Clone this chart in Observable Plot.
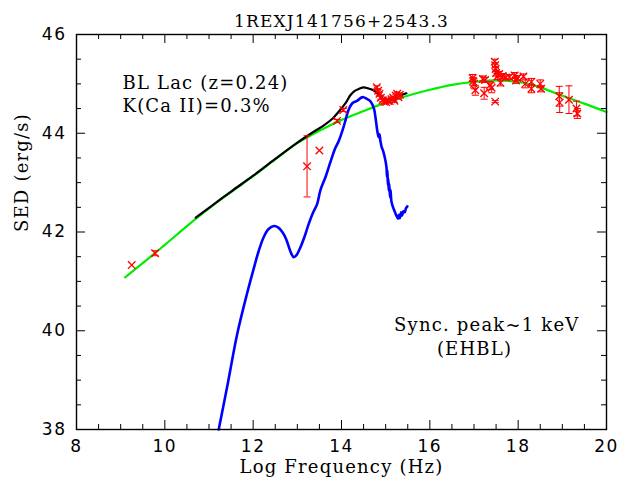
<!DOCTYPE html>
<html><head><meta charset="utf-8">
<script src="https://cdn.jsdelivr.net/npm/d3@7"></script>
<script src="https://cdn.jsdelivr.net/npm/@observablehq/plot@0.6"></script>
<style>
html,body{margin:0;padding:0;background:#fff;}
g[font-family="DejaVu Serif"] text{letter-spacing:1.2px;}
g[font-family="DejaVu Sans"] text{letter-spacing:1.5px;}
</style></head>
<body><div id="chart"></div>
<script>
// ---- texts ----
const title = "1REXJ141756+2543.3";
const xLabel = "Log Frequency (Hz)";
const yLabel = "SED (erg/s)";
const noteTopLeft = "BL Lac (z=0.24)\nK(Ca II)=0.3%";
const noteLine1 = "Sync. peak~1 keV";
const noteLine2 = "(EHBL)";

// ---- ticks ----
const xMajorTicks = [8, 10, 12, 14, 16, 18, 20];
const xMinorTicks = [8.5, 9, 9.5, 10.5, 11, 11.5, 12.5, 13, 13.5, 14.5, 15, 15.5, 16.5, 17, 17.5, 18.5, 19, 19.5];
const yMajorTicks = [38, 40, 42, 44, 46];
const yMinorTicks = [38.5, 39, 39.5, 40.5, 41, 41.5, 42.5, 43, 43.5, 44.5, 45, 45.5];

// ---- green model curve ----
const greenX = [9.1, 9.5, 10.0, 10.5, 11.0, 11.5, 12.0, 12.5, 13.0, 13.5, 14.0, 14.5, 15.0, 15.5, 16.0, 16.5, 17.0, 17.5, 18.0, 18.5, 19.0, 19.5, 20.0];
const greenY = [41.08, 41.37, 41.74, 42.12, 42.48, 42.81, 43.13, 43.47, 43.80, 44.05, 44.27, 44.45, 44.62, 44.76, 44.88, 44.98, 45.04, 45.07, 45.04, 44.93, 44.76, 44.60, 44.43];

// ---- black total curve ----
const blackX = [10.7, 11.0, 11.5, 12.0, 12.5, 13.0, 13.3, 13.6, 13.8, 13.95, 14.1, 14.2, 14.3, 14.4, 14.5, 14.6, 14.7, 14.8, 14.9, 15.0, 15.1, 15.2, 15.3, 15.4, 15.47];
const blackY = [42.29, 42.49, 42.82, 43.14, 43.48, 43.81, 43.99, 44.16, 44.30, 44.45, 44.62, 44.77, 44.86, 44.90, 44.93, 44.91, 44.88, 44.82, 44.72, 44.68, 44.69, 44.72, 44.76, 44.79, 44.81];

// ---- blue host galaxy curve ----
const blueX = [11.22, 11.41, 11.64, 11.86, 12.01, 12.12, 12.24, 12.35, 12.47, 12.57, 12.66, 12.75, 12.81, 12.87, 12.92, 12.98, 13.07, 13.16, 13.26, 13.35, 13.45, 13.52, 13.64, 13.75, 13.86, 13.94, 14.03, 14.09, 14.15, 14.22, 14.28, 14.36, 14.44, 14.50, 14.57, 14.64, 14.70, 14.74, 14.78, 14.81, 14.84, 14.86, 14.88, 14.91, 14.94, 14.97, 15.00, 15.02, 15.03, 15.04, 15.05, 15.06, 15.07, 15.08, 15.10, 15.11, 15.13, 15.16, 15.19, 15.22, 15.25, 15.28, 15.30, 15.32, 15.35, 15.37, 15.40, 15.43, 15.46, 15.49];
const blueY = [38.0, 38.86, 39.94, 40.75, 41.25, 41.60, 41.90, 42.06, 42.12, 42.09, 42.00, 41.85, 41.69, 41.55, 41.49, 41.53, 41.69, 41.90, 42.17, 42.38, 42.57, 42.84, 43.12, 43.42, 43.70, 43.85, 44.08, 44.26, 44.45, 44.58, 44.63, 44.66, 44.72, 44.73, 44.70, 44.66, 44.58, 44.48, 44.25, 44.05, 43.92, 43.98, 43.85, 43.72, 43.65, 43.55, 43.42, 43.30, 43.12, 43.25, 42.95, 43.08, 42.84, 42.98, 42.70, 42.85, 42.62, 42.52, 42.45, 42.38, 42.32, 42.27, 42.35, 42.28, 42.40, 42.33, 42.42, 42.40, 42.48, 42.52];

// ---- red data points (value, symmetric error) ----
const ptX = [9.25, 9.78, 13.22, 13.50, 13.90, 14.04,
  14.80, 14.83, 14.86, 14.89, 14.93, 14.97, 15.01, 15.05, 15.09, 15.13, 15.17, 15.20, 15.23, 15.26, 15.29, 15.32,
  16.97, 16.98, 17.00, 17.03, 17.20, 17.23, 17.25, 17.36, 17.40, 17.47, 17.48, 17.49, 17.50, 17.48, 17.53, 17.57, 17.60, 17.65, 17.72, 17.80, 17.92, 17.95, 17.98, 18.12, 18.16, 18.30, 18.30, 18.50, 18.52, 18.93, 18.94, 19.15, 19.32, 19.34];
const ptY = [41.33, 41.57, 43.33, 43.65, 44.25, 44.47,
  44.93, 44.86, 44.80, 44.72, 44.67, 44.64, 44.63, 44.66, 44.65, 44.69, 44.72, 44.66, 44.76, 44.80, 44.73, 44.78,
  45.12, 45.05, 45.00, 44.87, 45.10, 44.81, 45.08, 44.97, 44.92, 45.45, 45.38, 45.30, 45.22, 44.64, 45.15, 45.20, 45.02, 45.16, 45.13, 45.14, 45.17, 45.07, 45.12, 45.15, 45.00, 45.04, 44.90, 45.00, 44.90, 44.75, 44.62, 44.68, 44.50, 44.40];
const ptErr = [0, 0.05, 0.62, 0, 0.03, 0.03,
  0.03, 0.03, 0.03, 0.03, 0.03, 0.03, 0.03, 0.03, 0.03, 0.03, 0.03, 0.03, 0.03, 0.03, 0.03, 0.03,
  0.07, 0.08, 0.10, 0.10, 0.06, 0.12, 0.05, 0.08, 0.10, 0.05, 0.05, 0.05, 0.06, 0.02, 0.06, 0.05, 0.06, 0.05, 0.05, 0.05, 0.06, 0.06, 0.05, 0.05, 0.08, 0.07, 0.08, 0.08, 0.06, 0.20, 0.20, 0.28, 0.15, 0.10];

// ---- build tables ----
const green = greenX.map((x, i) => ({x, y: greenY[i]}));
const black = blackX.map((x, i) => ({x, y: blackY[i]}));
const blue = blueX.map((x, i) => ({x, y: blueY[i]}));
const points = ptX.map((x, i) => ({x, y: ptY[i], lo: ptY[i] - ptErr[i], hi: ptY[i] + ptErr[i], e: ptErr[i]}));
const withErr = points.filter(d => d.e > 0);

const W = 621, H = 479, mT = 34, mB = 50, mL = 76, mR = 15;
const frameH = H - mT - mB, frameW = W - mL - mR;
const majorLen = 9, minorLen = 5;
const capSymbol = {draw(ctx, size) { const r = Math.sqrt(size / Math.PI); ctx.moveTo(-r, 0); ctx.lineTo(r, 0); }};
const serif = {fontFamily: "DejaVu Serif", fontSize: 18, fill: "black"};
const idt = d => d;

const chart = Plot.plot({
  width: W, height: H,
  marginTop: mT, marginBottom: mB, marginLeft: mL, marginRight: mR,
  style: {background: "white", color: "black", overflow: "visible"},
  x: {type: "linear", domain: [8, 20], axis: null},
  y: {type: "linear", domain: [38, 46], axis: null},
  marks: [
    Plot.line(green, {x: "x", y: "y", stroke: "#00ee00", strokeWidth: 2.2, curve: "catmull-rom"}),
    Plot.line(black, {x: "x", y: "y", stroke: "black", strokeWidth: 2.2, curve: "catmull-rom"}),
    Plot.line(blue, {x: "x", y: "y", stroke: "#0000ff", strokeWidth: 2.6, curve: "catmull-rom"}),
    Plot.ruleX(withErr, {x: "x", y1: "lo", y2: "hi", stroke: "red", strokeWidth: 1}),
    Plot.dot(withErr, {x: "x", y: "lo", symbol: capSymbol, r: 3.5, stroke: "red", fill: "none", strokeWidth: 1}),
    Plot.dot(withErr, {x: "x", y: "hi", symbol: capSymbol, r: 3.5, stroke: "red", fill: "none", strokeWidth: 1}),
    Plot.dot(points, {x: "x", y: "y", symbol: "times", r: 3.5, stroke: "red", strokeWidth: 1.3}),
    // ticks, inward on all four sides
    Plot.tickX(xMajorTicks, {x: idt, insetTop: frameH - majorLen, stroke: "black"}),
    Plot.tickX(xMajorTicks, {x: idt, insetBottom: frameH - majorLen, stroke: "black"}),
    Plot.tickX(xMinorTicks, {x: idt, insetTop: frameH - minorLen, stroke: "black"}),
    Plot.tickX(xMinorTicks, {x: idt, insetBottom: frameH - minorLen, stroke: "black"}),
    Plot.tickY(yMajorTicks, {y: idt, insetRight: frameW - majorLen, stroke: "black"}),
    Plot.tickY(yMajorTicks, {y: idt, insetLeft: frameW - majorLen, stroke: "black"}),
    Plot.tickY(yMinorTicks, {y: idt, insetRight: frameW - minorLen, stroke: "black"}),
    Plot.tickY(yMinorTicks, {y: idt, insetLeft: frameW - minorLen, stroke: "black"}),
    Plot.frame({stroke: "black", strokeWidth: 1.4}),
    Plot.axisX({ticks: xMajorTicks, tickSize: 0, tickPadding: 10, fontSize: 17, fontFamily: "DejaVu Sans", fill: "black", label: null}),
    Plot.axisY({ticks: yMajorTicks, tickSize: 0, tickPadding: 10, fontSize: 17, fontFamily: "DejaVu Sans", fill: "black", label: null}),
    Plot.text([title], {text: idt, frameAnchor: "top", dy: -13, lineAnchor: "middle", ...serif, fontSize: 17}),
    Plot.text([xLabel], {text: idt, frameAnchor: "bottom", dy: 38, lineAnchor: "middle", ...serif}),
    Plot.text([yLabel], {text: idt, frameAnchor: "left", dx: -54, rotate: -90, lineAnchor: "middle", ...serif}),
    Plot.text([noteTopLeft], {text: idt, frameAnchor: "top-left", dx: 46, dy: 37, textAnchor: "start", lineAnchor: "top", lineHeight: 1.33, ...serif}),
    Plot.text([noteLine1], {text: idt, frameAnchor: "top-right", dx: -27, dy: 291, textAnchor: "end", lineAnchor: "middle", ...serif}),
    Plot.text([noteLine2], {text: idt, frameAnchor: "top-right", dx: -132, dy: 315, textAnchor: "middle", lineAnchor: "middle", ...serif})
  ]
});
document.getElementById("chart").appendChild(chart);
</script>
</body></html>
